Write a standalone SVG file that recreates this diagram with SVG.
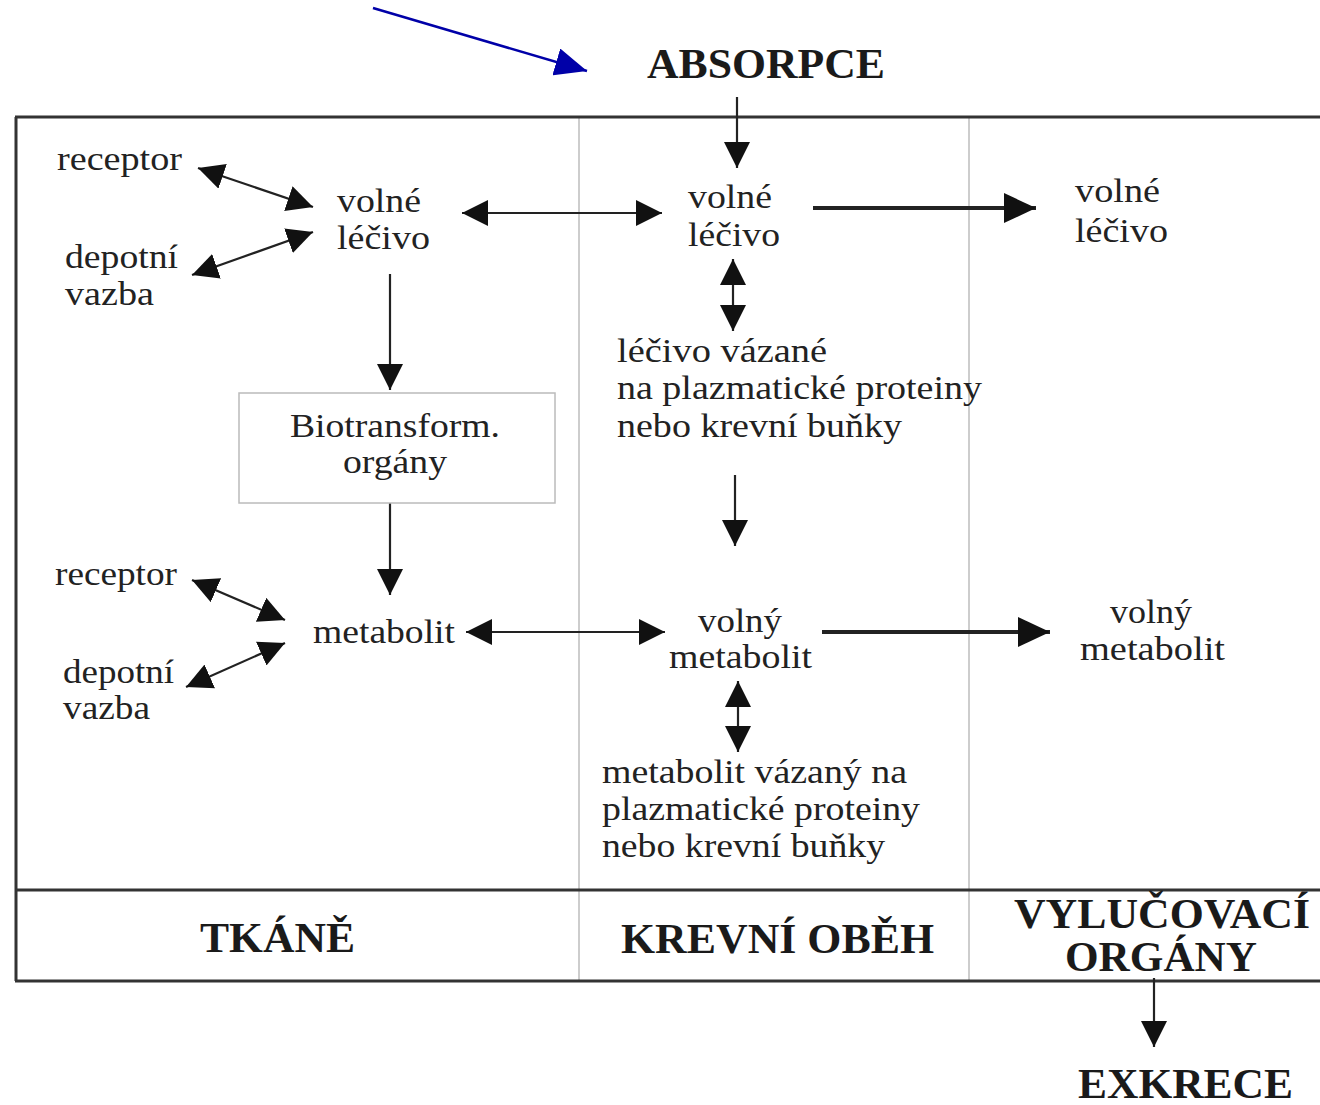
<svg xmlns="http://www.w3.org/2000/svg" width="1320" height="1105" viewBox="0 0 1320 1105">
<style>
.t{font-family:"Liberation Serif","Times New Roman",serif;font-size:33px;fill:#222}
.b{font-family:"Liberation Serif","Times New Roman",serif;font-size:43px;font-weight:bold;fill:#1a1a1a}
.frame{stroke:#333;stroke-width:3;fill:none}
.div{stroke:#bdbdbd;stroke-width:1.5;fill:none}
.c{stroke:#222;stroke-width:2.2;fill:none}
.ck{stroke:#222;stroke-width:4;fill:none}
</style>
<defs>
<marker id="ah" viewBox="0 0 26 26" refX="26" refY="13" markerWidth="26" markerHeight="26" markerUnits="userSpaceOnUse" orient="auto-start-reverse">
<path d="M0,0 L26,13 L0,26 z" fill="#111"/>
</marker>
<marker id="ahk" viewBox="0 0 32 30" refX="32" refY="15" markerWidth="32" markerHeight="30" markerUnits="userSpaceOnUse" orient="auto">
<path d="M0,0 L32,15 L0,30 z" fill="#111"/>
</marker>
<marker id="ahb" viewBox="0 0 32 28" refX="32" refY="14" markerWidth="32" markerHeight="28" markerUnits="userSpaceOnUse" orient="auto">
<path d="M0,0 L32,14 L0,28 z" fill="#0000a8"/>
</marker>
</defs>
<rect width="1320" height="1105" fill="#fff"/>

<g id="frame">
<line class="div" x1="579" y1="117" x2="579" y2="981"/>
<line class="div" x1="969" y1="117" x2="969" y2="981"/>
<line class="frame" x1="15" y1="117" x2="1320" y2="117"/>
<line class="frame" x1="16" y1="117" x2="16" y2="981"/>
<line class="frame" x1="15" y1="890" x2="1320" y2="890"/>
<line class="frame" x1="15" y1="981" x2="1320" y2="981"/>
</g>

<g id="connectors">
<line x1="373" y1="8" x2="587" y2="71" stroke="#0000a8" stroke-width="2.5" marker-end="url(#ahb)"/>
<line class="c" x1="737" y1="97" x2="737" y2="168" marker-end="url(#ah)"/>
<line class="c" x1="198" y1="168" x2="313" y2="207" marker-start="url(#ah)" marker-end="url(#ah)"/>
<line class="c" x1="192" y1="275" x2="313" y2="232" marker-start="url(#ah)" marker-end="url(#ah)"/>
<line class="c" x1="462" y1="213" x2="662" y2="213" marker-start="url(#ah)" marker-end="url(#ah)"/>
<line class="ck" x1="813" y1="208" x2="1036" y2="208" marker-end="url(#ahk)"/>
<line class="c" x1="390" y1="274" x2="390" y2="390" marker-end="url(#ah)"/>
<line class="c" x1="733" y1="259" x2="733" y2="331" marker-start="url(#ah)" marker-end="url(#ah)"/>
<line class="c" x1="390" y1="503" x2="390" y2="595" marker-end="url(#ah)"/>
<line class="c" x1="735" y1="475" x2="735" y2="546" marker-end="url(#ah)"/>
<line class="c" x1="192" y1="580" x2="285" y2="620" marker-start="url(#ah)" marker-end="url(#ah)"/>
<line class="c" x1="186" y1="687" x2="285" y2="643" marker-start="url(#ah)" marker-end="url(#ah)"/>
<line class="c" x1="466" y1="632" x2="665" y2="632" marker-start="url(#ah)" marker-end="url(#ah)"/>
<line class="ck" x1="822" y1="632" x2="1050" y2="632" marker-end="url(#ahk)"/>
<line class="c" x1="738" y1="681" x2="738" y2="752" marker-start="url(#ah)" marker-end="url(#ah)"/>
<line class="c" x1="1154" y1="978" x2="1154" y2="1047" marker-end="url(#ah)"/>
</g>

<g id="absorpce"><text class="b" x="647" y="78" textLength="238" lengthAdjust="spacingAndGlyphs">ABSORPCE</text></g>

<g id="receptor1"><text class="t" x="57" y="170" textLength="125" lengthAdjust="spacingAndGlyphs">receptor</text></g>
<g id="depot1"><text class="t" x="65" y="268" textLength="113" lengthAdjust="spacingAndGlyphs">depotní</text><text class="t" x="65" y="305" textLength="89" lengthAdjust="spacingAndGlyphs">vazba</text></g>
<g id="volne-tkane"><text class="t" x="337" y="212" textLength="84" lengthAdjust="spacingAndGlyphs">volné</text><text class="t" x="337" y="249" textLength="93" lengthAdjust="spacingAndGlyphs">léčivo</text></g>

<g id="biotransform">
<rect x="239" y="393" width="316" height="110" fill="#fff" stroke="#bbb" stroke-width="1.5"/>
<text class="t" x="290" y="437" textLength="210" lengthAdjust="spacingAndGlyphs">Biotransform.</text>
<text class="t" x="343" y="473" textLength="104" lengthAdjust="spacingAndGlyphs">orgány</text>
</g>

<g id="receptor2"><text class="t" x="55" y="585" textLength="122" lengthAdjust="spacingAndGlyphs">receptor</text></g>
<g id="depot2"><text class="t" x="63" y="683" textLength="111" lengthAdjust="spacingAndGlyphs">depotní</text><text class="t" x="63" y="719" textLength="87" lengthAdjust="spacingAndGlyphs">vazba</text></g>
<g id="metabolit-tkane"><text class="t" x="313" y="643" textLength="142" lengthAdjust="spacingAndGlyphs">metabolit</text></g>

<g id="volne-krev"><text class="t" x="688" y="208" textLength="84" lengthAdjust="spacingAndGlyphs">volné</text><text class="t" x="688" y="246" textLength="92" lengthAdjust="spacingAndGlyphs">léčivo</text></g>
<g id="vazane-lecivo">
<text class="t" x="617" y="362" textLength="210" lengthAdjust="spacingAndGlyphs">léčivo vázané</text>
<text class="t" x="617" y="399" textLength="365" lengthAdjust="spacingAndGlyphs">na plazmatické proteiny</text>
<text class="t" x="617" y="437" textLength="285" lengthAdjust="spacingAndGlyphs">nebo krevní buňky</text>
</g>
<g id="volny-metabolit-krev"><text class="t" x="698" y="632" textLength="84" lengthAdjust="spacingAndGlyphs">volný</text><text class="t" x="669" y="668" textLength="143" lengthAdjust="spacingAndGlyphs">metabolit</text></g>
<g id="vazany-metabolit">
<text class="t" x="602" y="783" textLength="305" lengthAdjust="spacingAndGlyphs">metabolit vázaný na</text>
<text class="t" x="602" y="820" textLength="318" lengthAdjust="spacingAndGlyphs">plazmatické proteiny</text>
<text class="t" x="602" y="857" textLength="283" lengthAdjust="spacingAndGlyphs">nebo krevní buňky</text>
</g>

<g id="volne-vylucovaci"><text class="t" x="1075" y="202" textLength="85" lengthAdjust="spacingAndGlyphs">volné</text><text class="t" x="1075" y="242" textLength="93" lengthAdjust="spacingAndGlyphs">léčivo</text></g>
<g id="volny-metabolit-vylucovaci"><text class="t" x="1110" y="623" textLength="82" lengthAdjust="spacingAndGlyphs">volný</text><text class="t" x="1080" y="660" textLength="145" lengthAdjust="spacingAndGlyphs">metabolit</text></g>

<g id="label-tkane"><text class="b" x="200" y="952" textLength="155" lengthAdjust="spacingAndGlyphs">TKÁNĚ</text></g>
<g id="label-krev"><text class="b" x="621" y="953" textLength="313" lengthAdjust="spacingAndGlyphs">KREVNÍ OBĚH</text></g>
<g id="label-vylucovaci"><text class="b" x="1014" y="928" textLength="296" lengthAdjust="spacingAndGlyphs">VYLUČOVACÍ</text><text class="b" x="1065" y="971" textLength="192" lengthAdjust="spacingAndGlyphs">ORGÁNY</text></g>
<g id="exkrece"><text class="b" x="1078" y="1098" textLength="215" lengthAdjust="spacingAndGlyphs">EXKRECE</text></g>
</svg>
